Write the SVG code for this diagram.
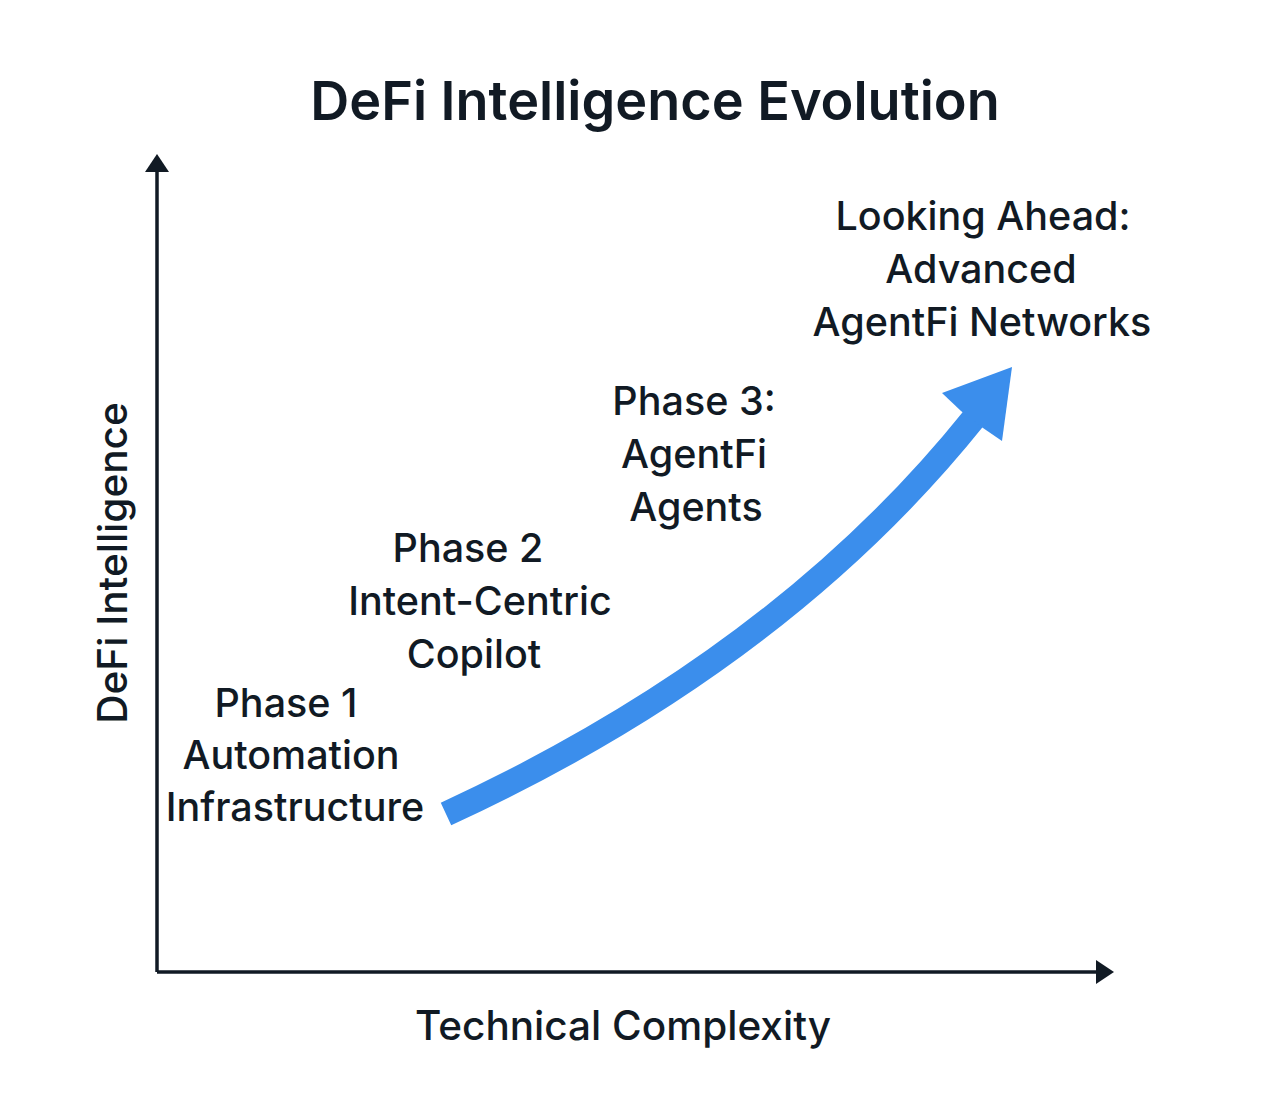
<svg xmlns="http://www.w3.org/2000/svg" width="1283" height="1103" viewBox="0 0 1283 1103">
<style>
text{font-family:Inter,"Liberation Sans",sans-serif;fill:#111a24}
.title{font-size:54px;font-weight:600;text-anchor:middle}
.lbl{font-size:39.5px;font-weight:500;text-anchor:middle}
.ax{font-size:40.5px;font-weight:500;text-anchor:middle}
.axis{stroke:#111a24;stroke-width:3.5;fill:none}
</style>
<defs>
<marker id="ah" markerUnits="userSpaceOnUse" viewBox="0 0 18 24" markerWidth="18" markerHeight="24" refX="0" refY="12" orient="auto">
<path d="M0,0 L18,12 L0,24 z" fill="#111a24"/>
</marker>
</defs>
<rect width="1283" height="1103" fill="#ffffff"/>
<text class="title" x="655" y="120">DeFi Intelligence Evolution</text>
<g id="connectors">
<line id="y-axis" class="axis" x1="157" y1="972" x2="157" y2="172" marker-end="url(#ah)"/>
<line id="x-axis" class="axis" x1="157" y1="972" x2="1096" y2="972" marker-end="url(#ah)"/>
<g id="trend-arrow">
<path d="M446,814 Q780,660 974,418" stroke="#3b8eec" stroke-width="25" fill="none"/>
<polygon points="1012,367 1002,441 983,428 961,411 942,393" fill="#3b8eec"/>
</g>
</g>
<g id="axis-y-label"><text class="ax" transform="translate(127,563) rotate(-90)" x="0" y="0">DeFi Intelligence</text></g>
<g id="axis-x-label"><text class="ax" x="623" y="1040">Technical Complexity</text></g>
<g id="phase1">
<text class="lbl" x="286" y="717">Phase 1</text>
<text class="lbl" x="291" y="769">Automation</text>
<text class="lbl" x="295" y="821">Infrastructure</text>
</g>
<g id="phase2">
<text class="lbl" x="468" y="562">Phase 2</text>
<text class="lbl" x="480" y="615">Intent-Centric</text>
<text class="lbl" x="474" y="668">Copilot</text>
</g>
<g id="phase3">
<text class="lbl" x="694" y="415">Phase 3:</text>
<text class="lbl" x="694" y="468">AgentFi</text>
<text class="lbl" x="696" y="521">Agents</text>
</g>
<g id="looking-ahead">
<text class="lbl" x="983" y="230">Looking Ahead:</text>
<text class="lbl" x="981" y="283">Advanced</text>
<text class="lbl" x="982" y="336">AgentFi Networks</text>
</g>
</svg>
